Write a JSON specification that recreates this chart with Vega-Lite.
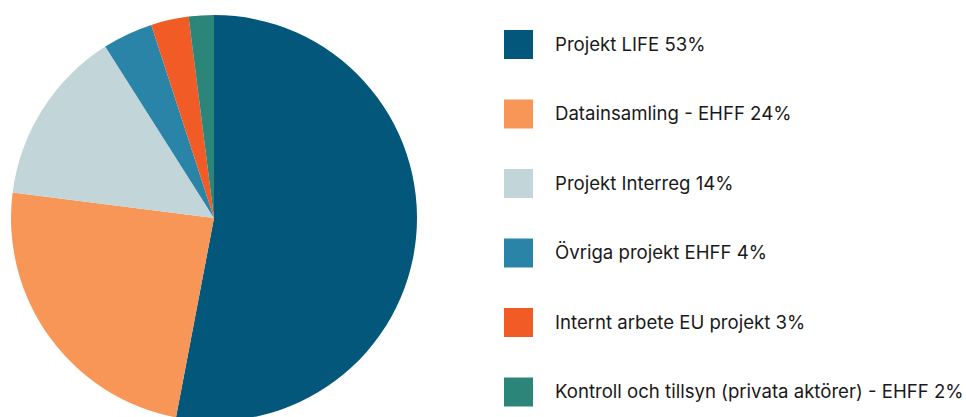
{
  "$schema": "https://vega.github.io/schema/vega-lite/v6.json",
  "width": 406,
  "height": 406,
  "autosize": {"type": "none"},
  "padding": {"left": 11, "top": 15, "right": 549, "bottom": 0},
  "background": "white",
  "data": {
    "values": [
      {"kategori": "Projekt LIFE 53%", "andel": 53, "ordning": 1},
      {"kategori": "Datainsamling - EHFF 24%", "andel": 24, "ordning": 2},
      {"kategori": "Projekt Interreg 14%", "andel": 14, "ordning": 3},
      {"kategori": "Övriga projekt EHFF 4%", "andel": 4, "ordning": 4},
      {"kategori": "Internt arbete EU projekt 3%", "andel": 3, "ordning": 5},
      {"kategori": "Kontroll och tillsyn (privata aktörer) - EHFF 2%", "andel": 2, "ordning": 6}
    ]
  },
  "mark": {"type": "arc", "outerRadius": 203},
  "encoding": {
    "theta": {"field": "andel", "type": "quantitative", "stack": true},
    "order": {"field": "ordning", "type": "quantitative"},
    "color": {
      "field": "kategori",
      "type": "nominal",
      "sort": null,
      "scale": {
        "domain": [
          "Projekt LIFE 53%",
          "Datainsamling - EHFF 24%",
          "Projekt Interreg 14%",
          "Övriga projekt EHFF 4%",
          "Internt arbete EU projekt 3%",
          "Kontroll och tillsyn (privata aktörer) - EHFF 2%"
        ],
        "range": ["#02577a", "#f79656", "#c2d5d8", "#2a84a8", "#f15b25", "#2c8579"]
      },
      "legend": {
        "title": null,
        "orient": "none",
        "legendX": 493,
        "legendY": 15,
        "symbolType": "square",
        "symbolSize": 841,
        "symbolStrokeWidth": 0,
        "rowPadding": 40.5,
        "labelOffset": 22,
        "labelFont": "Inter",
        "labelFontSize": 18.6,
        "labelFontWeight": 400,
        "labelColor": "#1a1a1a",
        "labelLimit": 500,
        "padding": 0
      }
    }
  },
  "config": {"view": {"stroke": null}}
}
